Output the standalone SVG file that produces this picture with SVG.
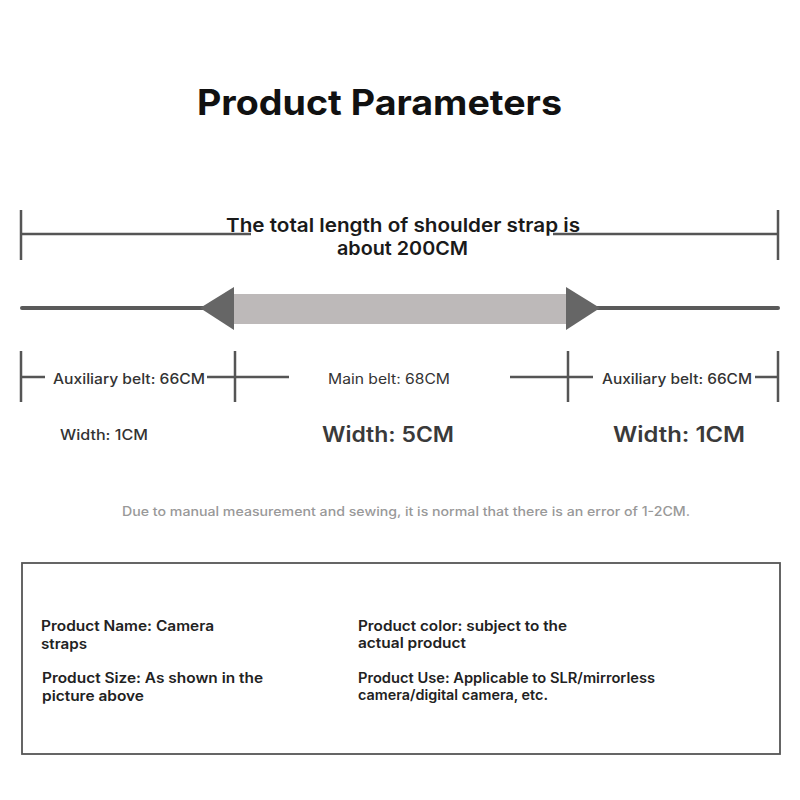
<svg xmlns="http://www.w3.org/2000/svg" width="800" height="800" viewBox="0 0 800 800">
<style>
text{font-family:Inter,"Noto Sans","Liberation Sans",sans-serif;}
.title{font-size:35px;font-weight:700;fill:#111;}
.lead{font-size:19px;font-weight:600;fill:#1a1a1a;}
.dim{stroke:#555;stroke-width:2.5;fill:none;}
.lbl{font-size:14px;font-weight:500;fill:#333;}
.w1{font-size:14px;font-weight:500;fill:#333;}
.w2{font-size:21px;font-weight:600;fill:#3a3a3a;}
.note{font-size:12.5px;font-weight:500;fill:#999;}
.info{font-size:14px;font-weight:600;fill:#222;}
</style>
<text class="title" x="197" y="115" textLength="365" lengthAdjust="spacingAndGlyphs">Product Parameters</text>

<g id="connectors">
<path class="dim" d="M21 210V260M21 234H251M553 234H778M778 210V260"/>
<path class="dim" d="M21 351V402M21 377H45M207 377H289M235 351V402M510 377H593M568 351V402M755 377H778M778 351V402"/>
</g>

<g id="total-label">
<text class="lead" x="226" y="232" textLength="354" lengthAdjust="spacingAndGlyphs">The total length of shoulder strap is</text>
<text class="lead" x="337" y="255" textLength="131" lengthAdjust="spacingAndGlyphs">about 200CM</text>
</g>

<g id="strap">
<line x1="22" y1="308" x2="205" y2="308" stroke="#5a5a5a" stroke-width="4" stroke-linecap="round"/>
<line x1="595" y1="308" x2="778" y2="308" stroke="#5a5a5a" stroke-width="4" stroke-linecap="round"/>
<rect x="234" y="294" width="332" height="30" fill="#bdb9b9"/>
<polygon points="200,308 234,287 234,330" fill="#666"/>
<polygon points="600,308 566,287 566,330" fill="#666"/>
</g>

<g id="aux-left">
<text class="lbl" x="53" y="384" textLength="152" lengthAdjust="spacingAndGlyphs">Auxiliary belt: 66CM</text>
<text class="w1" x="60" y="440" textLength="88" lengthAdjust="spacingAndGlyphs">Width: 1CM</text>
</g>
<g id="main">
<text class="lbl" x="328" y="384" textLength="122" lengthAdjust="spacingAndGlyphs" style="font-weight:400">Main belt: 68CM</text>
<text class="w2" x="322" y="442" textLength="132" lengthAdjust="spacingAndGlyphs">Width: 5CM</text>
</g>
<g id="aux-right">
<text class="lbl" x="602" y="384" textLength="150" lengthAdjust="spacingAndGlyphs">Auxiliary belt: 66CM</text>
<text class="w2" x="613" y="442" textLength="132" lengthAdjust="spacingAndGlyphs">Width: 1CM</text>
</g>

<text class="note" x="122" y="516" textLength="568" lengthAdjust="spacingAndGlyphs">Due to manual measurement and sewing, it is normal that there is an error of 1-2CM.</text>

<g id="info-box">
<rect x="22" y="563" width="758" height="191" fill="none" stroke="#555" stroke-width="1.8"/>
<text class="info" x="41" y="631" textLength="173" lengthAdjust="spacingAndGlyphs">Product Name: Camera</text>
<text class="info" x="41" y="649" textLength="46" lengthAdjust="spacingAndGlyphs">straps</text>
<text class="info" x="42" y="683" textLength="221" lengthAdjust="spacingAndGlyphs">Product Size: As shown in the</text>
<text class="info" x="42" y="701" textLength="102" lengthAdjust="spacingAndGlyphs">picture above</text>
<text class="info" x="358" y="631" textLength="209" lengthAdjust="spacingAndGlyphs">Product color: subject to the</text>
<text class="info" x="358" y="648" textLength="108" lengthAdjust="spacingAndGlyphs">actual product</text>
<text class="info" x="358" y="683" textLength="297" lengthAdjust="spacingAndGlyphs">Product Use: Applicable to SLR/mirrorless</text>
<text class="info" x="358" y="700" textLength="190" lengthAdjust="spacingAndGlyphs">camera/digital camera, etc.</text>
</g>
</svg>
